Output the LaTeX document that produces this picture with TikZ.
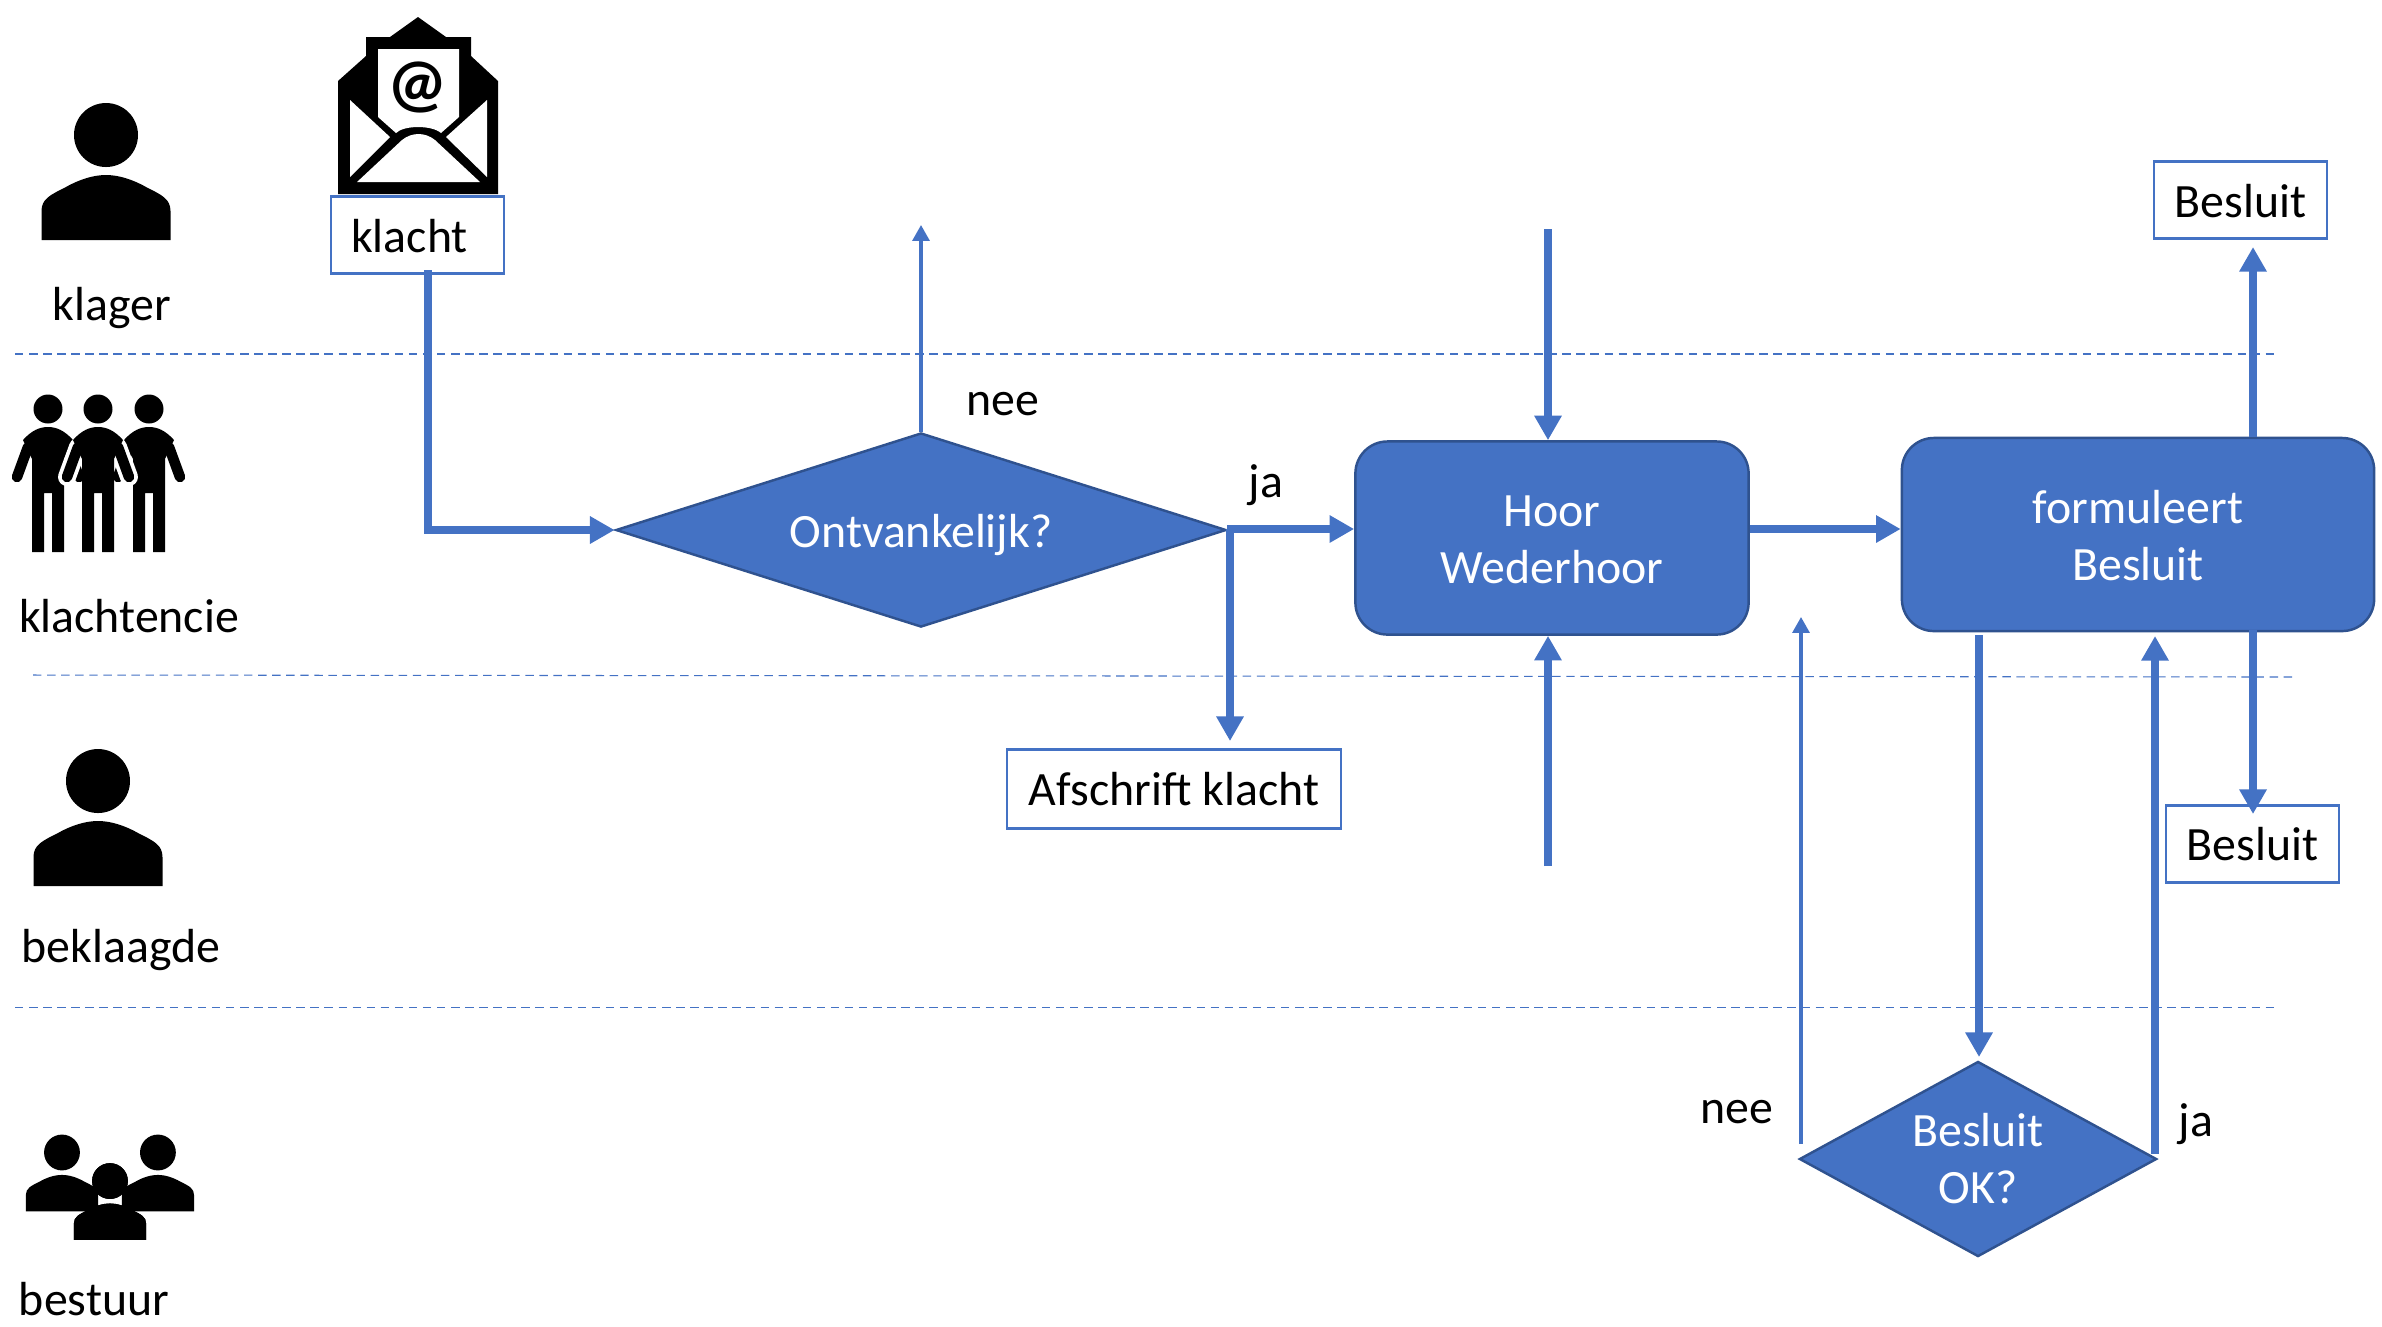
\documentclass[tikz,border=0pt]{standalone}
\usepackage{fontspec}
\setmainfont{Carlito}
\usetikzlibrary{shapes.geometric, arrows.meta}

\definecolor{blauw}{RGB}{68,114,196}
\definecolor{rand}{RGB}{47,82,143}

\newcommand{\zak}[2]{\raisebox{-#1}[\height][\depth]{#2}}

\tikzset{
  every node/.style={font=\fontsize{13.6}{16.2}\selectfont, inner sep=0pt},
  blok/.style={draw=rand, fill=blauw, text=white, align=center, rounded corners=0.32cm, line width=0.7pt},
  keuze/.style={diamond, draw=rand, fill=blauw, text=white, align=center, line width=0.7pt},
  stuk/.style={draw=blauw, fill=white, line width=0.6pt},
  dik/.style={blauw, line width=2.4pt, -{Triangle[length=7pt,width=7.4pt]}},
  dun/.style={blauw, line width=0.9pt, -{Triangle[length=4.5pt,width=4.8pt]}},
  scheiding/.style={blauw, line width=0.3pt, dash pattern=on 2.4pt off 1.6pt},
  pics/persoon/.style={code={
    \fill[black] (0,0) circle (32);
    \fill[black] (-64.5,105) -- (-64.5,76) .. controls (-64.5,64) and (-56,60) .. (-40,52)
      .. controls (-26,44) and (-12,40) .. (0,40) .. controls (12,40) and (26,44) .. (40,52)
      .. controls (56,60) and (64.5,64) .. (64.5,76) -- (64.5,105) -- cycle;
  }},
  pics/figuur/.style={code={
    \fill[black] (0,0) circle (14.5);
    \fill[black] (-16,143) -- (-16,50) -- (-25,31) .. controls (-16,21) and (-8,18) .. (0,18)
      .. controls (8,18) and (16,21) .. (25,31) -- (16,50) -- (16,143) -- (4,143) -- (4,84)
      -- (-4,84) -- (-4,143) -- cycle;
    \draw[black, line width=0.105cm, line cap=round] (-20,38) -- (-31,68) (20,38) -- (31,68);
  }}
}

\begin{document}
\begin{tikzpicture}[>=latex, x=0.01cm, y=-0.01cm]

\useasboundingbox (0,0) rectangle (2382,1326);

% scheidingslijnen
\draw[scheiding] (15,354) -- (2275,354);
\draw[scheiding] (33,675) -- (2294,677);
\draw[scheiding] (15,1007) -- (2275,1007);

% klager
\pic at (106,135) {persoon};
\node (klager) at (112,308) {klager};

% klachtencie
\foreach \x in {48,149} {
  \pic at (\x,409) {figuur};
}
\begin{scope}[shift={(98,409)}]
  \draw[white, line width=0.18cm, line cap=round] (-20,38) -- (-31,68) (20,38) -- (31,68);
\end{scope}
\pic at (98,409) {figuur};
\node (cie) at (129,616) {klachtencie};

% beklaagde
\pic at (98,781) {persoon};
\node (beklaagde) at (121,950) {beklaagde};

% bestuur
\begin{scope}[scale=0.56, transform shape]
  \pic at (110.7,2058) {persoon};
  \pic at (282,2058) {persoon};
  \pic[draw=white, line width=4pt] at (196.4,2109) {persoon};
  \pic at (196.4,2109) {persoon};
\end{scope}
\node (bestuur) at (94,1299) {bestuur};

% envelop
\fill[black] (418,17) -- (446,37) -- (471,37) -- (471,56) -- (498,81) -- (498,194) -- (338,194)
  -- (338,81) -- (366,56) -- (366,37) -- (390,37) -- cycle;
\fill[white] (378,49) -- (459,49) -- (459,117) -- (441,133) .. controls (432,125) and (404,125) .. (396,133)
  -- (378,117) -- cycle;
\fill[white] (350,100) -- (390,137) -- (350,177) -- cycle;
\fill[white] (487,100) -- (446,137) -- (487,177) -- cycle;
\fill[white] (357,182) -- (402,140) .. controls (412,132) and (425,132) .. (435,140) -- (480,182) -- cycle;
\node[font=\fontsize{19}{19}\selectfont\bfseries] (apenstaart) at (418,87) {@};

% stukken
\node[stuk, minimum width=1.73cm, minimum height=0.77cm] (klacht) at (417.5,235) {};
\node (klachttekst) at (409.5,236) {klacht};
\node[stuk, minimum width=3.34cm, minimum height=0.79cm] (afschrift) at (1174,789) {Afschrift klacht};
\node[stuk, minimum width=1.73cm, minimum height=0.77cm] (besluitboven) at (2240.5,200) {\zak{0.3pt}{Besluit}};
\node[stuk, minimum width=1.73cm, minimum height=0.77cm] (besluitonder) at (2252.5,844) {Besluit};

% keuzes en blokken
\node[keuze, aspect=3.15, minimum width=6.1cm, minimum height=1.94cm] (ontvankelijk) at (921,530) {\zak{1.3pt}{Ontvankelijk?}};
\node[keuze, aspect=1.83, minimum width=3.57cm, minimum height=1.95cm] (besluitok) at (1978,1159) {Besluit\\OK?};
\node[blok, minimum width=3.93cm, minimum height=1.93cm] (hoor) at (1552,538) {\zak{0.6pt}{Hoor}\\\zak{0.6pt}{Wederhoor}};
\node[blok, minimum width=4.72cm, minimum height=1.93cm] (formuleert) at (2138,534.5) {\zak{0.4pt}{formuleert}\\\zak{0.4pt}{Besluit}};

% labels
\node (neeboven) at (1003,404) {nee};
\node (jaboven) at (1266,485) {ja};
\node (neeonder) at (1737,1112) {nee};
\node (jaonder) at (2196,1124) {ja};

% vrije uiteinden
\coordinate (neetop) at (921,225);
\coordinate (afschrifttop) at (1230,741);
\coordinate (hoorboven) at (1548,229);
\coordinate (hooronder) at (1548,866);
\coordinate (okneevan) at (1801,1144);
\coordinate (okneenaar) at (1801,617);
\coordinate (okjavan) at (2155,1154);
\coordinate (okjanaar) at (2155,636);
\coordinate (okbegin) at (1979,635);
\coordinate (okeind) at (1979,1057);

% verbindingen
\draw[dik] (428,270) |- (ontvankelijk.west);
\draw[dun] (ontvankelijk.north) -- (neetop);
\draw[dik] (ontvankelijk.east |- 0,529) -- (hoor.west |- 0,529);
\draw[dik] (1230,529) -- (afschrifttop);
\draw[dik] (hoorboven) -- (hoorboven |- hoor.north);
\draw[dik] (hooronder) -- (hooronder |- hoor.south);
\draw[dik] (hoor.east |- 0,529) -- (formuleert.west |- 0,529);
\draw[dik] (2253,437) -- (2253,247);
\draw[dik] (2253,630) -- (2253,814);
\draw[dik] (okbegin) -- (okeind);
\draw[dik] (okjavan) -- (okjanaar);
\draw[dun] (okneevan) -- (okneenaar);

\end{tikzpicture}
\end{document}
